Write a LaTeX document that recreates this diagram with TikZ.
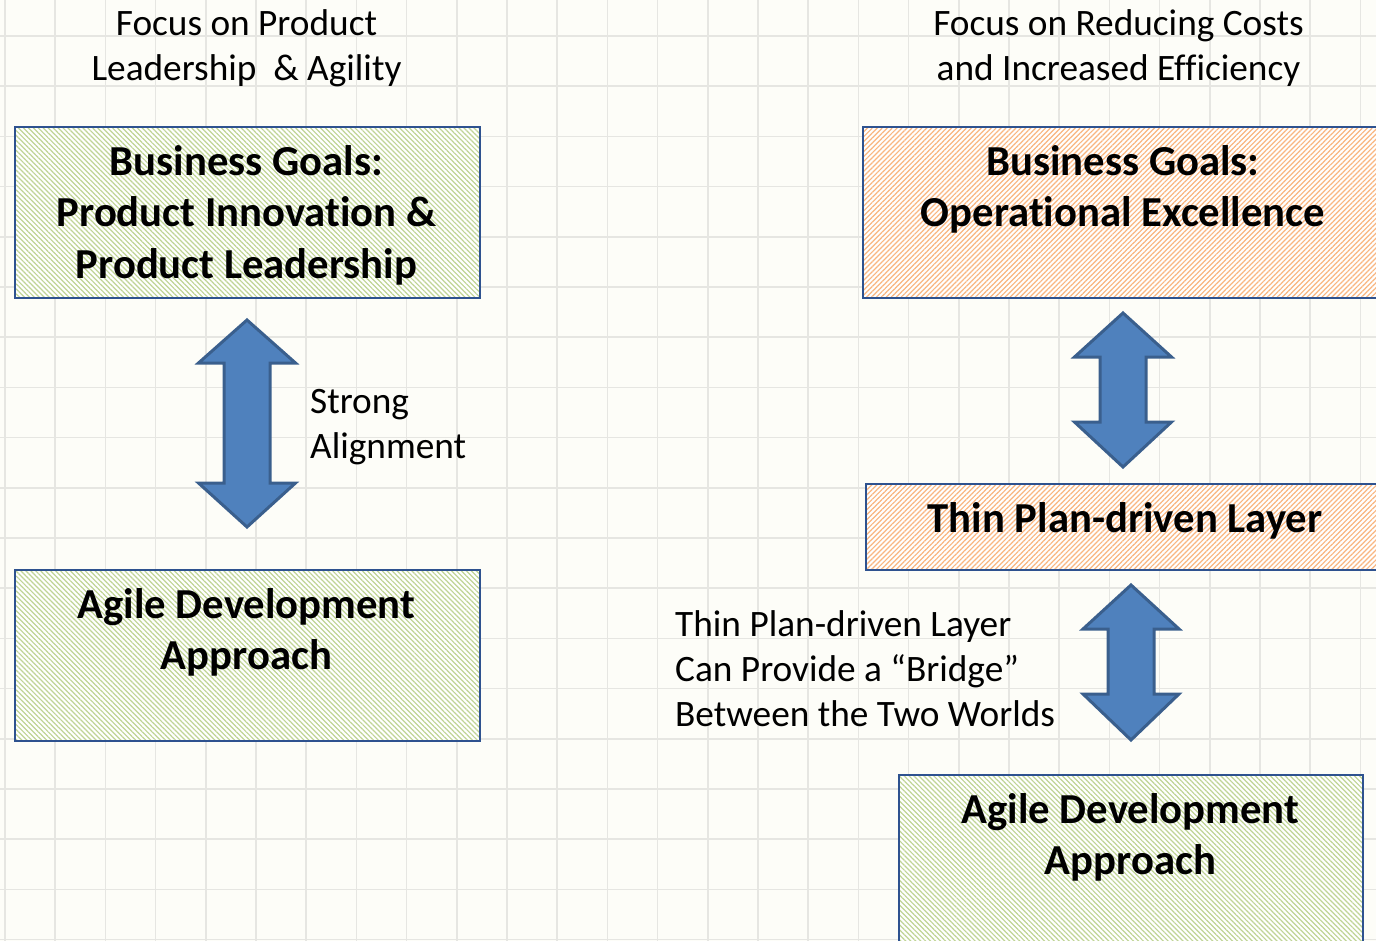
\documentclass[tikz,border=0pt]{standalone}
\usepackage{fontspec}
\setmainfont{Carlito}[Ligatures={NoCommon}]
\usetikzlibrary{patterns.meta}
\definecolor{bgc}{HTML}{FDFDF8}
\definecolor{gridc}{HTML}{E6E6E2}
\definecolor{boxline}{HTML}{2E528F}
\definecolor{greenhatch}{HTML}{BFD495}
\definecolor{orangehatch}{HTML}{F9B680}
\definecolor{arrowfill}{HTML}{4F81BD}
\definecolor{arrowline}{HTML}{3A5F8D}
\tikzset{
  gridline/.style={draw=gridc, line width=1.5pt},
  hbox/.style={draw=boxline, line width=2pt, preaction={fill=white}, rectangle, inner sep=0pt, anchor=north west},
  greenbox/.style={hbox, pattern={Lines[angle=-45,distance=3.5pt,line width=1.2pt]}, pattern color=greenhatch},
  orangebox/.style={hbox, pattern={Lines[angle=45,distance=3.5pt,line width=1.2pt]}, pattern color=orangehatch},
  boldtext/.style={font=\fontsize{42.7}{51.5}\selectfont\bfseries, align=center, inner sep=0pt, anchor=north},
  plaintext/.style={font=\fontsize{37.3}{45}\selectfont, align=center, inner sep=0pt, anchor=north},
  plainleft/.style={plaintext, align=left, anchor=north west},
  blockarrow/.style={fill=arrowfill, draw=arrowline, line width=3pt, line join=miter},
}
% cx, top, headbase1, headbase2, bottom, halfhead, halfshaft
\newcommand\udblockarrow[7]{%
  \draw[blockarrow] (#1,#2) -- ({#1+#6},#3) -- ({#1+#7},#3) -- ({#1+#7},#4) -- ({#1+#6},#4)
    -- (#1,#5) -- ({#1-#6},#4) -- ({#1-#7},#4) -- ({#1-#7},#3) -- ({#1-#6},#3) -- cycle;}
\begin{document}
\begin{tikzpicture}[x=1pt,y=-1pt]
\useasboundingbox (0,0) rectangle (1376,941);
\clip (0,0) rectangle (1376,941);
\fill[bgc] (0,0) rectangle (1376,941);
\foreach \i in {0,...,27} \draw[gridline] ({5+50.2*\i},0) -- ({5+50.2*\i},941);
\foreach \j in {0,...,18} \draw[gridline] (0,{36+50.2*\j}) -- (1376,{36+50.2*\j});

% titles
\node[plaintext] (titleL) at (246.5,3.5) {\strut Focus on Product\\Leadership\ \ \& Agility};
\node[plaintext] (titleR) at (1118.5,3.5) {\strut Focus on Reducing Costs\\and Increased Efficiency};

% boxes
\node[greenbox, minimum width=465pt, minimum height=171pt] (L1) at (14,126) {};
\node[greenbox, minimum width=465pt, minimum height=171pt] (L2) at (14,569) {};
\node[orangebox, minimum width=524pt, minimum height=171pt] (R1) at (862,126) {};
\node[orangebox, minimum width=521pt, minimum height=86pt] (R2) at (865,483) {};
\node[greenbox, minimum width=464pt, minimum height=175pt] (R3) at (898,774) {};

% box texts
\node[boldtext] (L1t) at (246.5,138.95) {\strut Business Goals:\\Product Innovation \&\\Product Leadership};
\node[boldtext] (L2t) at (246.5,581.95) {\strut Agile Development\\Approach};
\node[boldtext] (R1t) at (1123,138.95) {\strut Business Goals:\\Operational Excellence};
\node[boldtext] (R2t) at (1125,495.95) {\strut Thin Plan-driven Layer};
\node[boldtext] (R3t) at (1130.5,786.95) {\strut Agile Development\\Approach};

% arrows
\udblockarrow{247}{320}{363}{483}{527}{48.5}{23}
\udblockarrow{1123}{313}{357}{422}{467}{48.5}{23}
\udblockarrow{1131}{585}{629}{694}{740}{48}{23}

% side labels
\node[plainleft] (align) at (310,381.5) {\strut Strong\\Alignment};
\node[plainleft] (bridge) at (675,604.5) {\strut Thin Plan-driven Layer\\Can Provide a “Bridge”\\Between the Two Worlds};
\end{tikzpicture}
\end{document}
